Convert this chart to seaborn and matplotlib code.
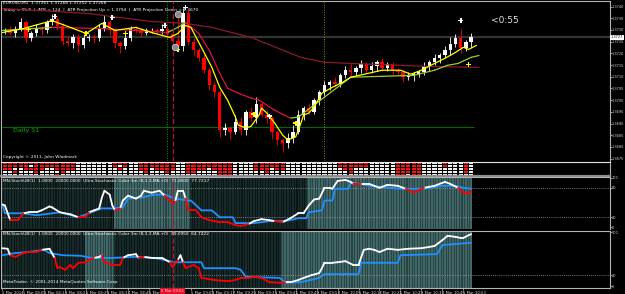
import numpy as np
import pandas as pd
import matplotlib
matplotlib.use("Agg")
import matplotlib.pyplot as plt
import seaborn as sns

# ---------------- data ----------------
first_open = 1.37294
candle_close = [
    1.37298, 1.37289, 1.37306, 1.37332, 1.37264, 1.37285, 1.37306, 1.37298, 1.37332, 1.37349,
    1.37319, 1.37255, 1.37243, 1.37272, 1.37234, 1.37264, 1.37272, 1.37264, 1.37306, 1.37332,
    1.37298, 1.37243, 1.37230, 1.37264, 1.37306, 1.37298, 1.37289, 1.37298, 1.37298, 1.37294,
    1.37306, 1.37281, 1.37255, 1.37230, 1.37374, 1.37247, 1.37213, 1.37179, 1.37128, 1.37064,
    1.37034, 1.36872, 1.36881, 1.36864, 1.36906, 1.36872, 1.36949, 1.36923, 1.36983, 1.36936,
    1.36923, 1.36864, 1.36830, 1.36817, 1.36838, 1.36864, 1.36936, 1.36966, 1.36949, 1.37000,
    1.37034, 1.37064, 1.37077, 1.37068, 1.37106, 1.37128, 1.37119, 1.37136, 1.37153, 1.37128,
    1.37145, 1.37162, 1.37136, 1.37153, 1.37128, 1.37119, 1.37098, 1.37102, 1.37111, 1.37119,
    1.37145, 1.37162, 1.37179, 1.37191, 1.37213, 1.37238, 1.37264, 1.37221, 1.37247, 1.37268]
wick_up_pips = [1, 2, 1, 2, 1, 1, 2, 1, 1, 2, 1, 1, 2, 1, 1, 2, 1, 1, 2, 3,
                1, 1, 1, 2, 1, 1, 1, 1, 1, 1, 2, 1, 1, 11, 2, 1, 2, 1, 2, 1,
                2, 1, 2, 1, 3, 2, 1, 2, 3, 1, 2, 1, 1, 1, 2, 3, 2, 1, 2, 1,
                1, 2, 1, 2, 1, 2, 3, 1, 2, 1, 2, 1, 2, 1, 1, 1, 1, 2, 1, 1,
                2, 1, 2, 1, 2, 3, 2, 4, 1, 2]
wick_dn_pips = [1, 1, 2, 1, 2, 1, 1, 2, 1, 1, 2, 2, 1, 2, 3, 1, 1, 2, 1, 1,
                2, 2, 3, 1, 1, 1, 2, 1, 1, 1, 1, 2, 1, 2, 2, 1, 2, 1, 1, 2,
                2, 3, 2, 3, 1, 2, 2, 1, 2, 1, 2, 3, 2, 4, 2, 2, 1, 2, 1, 1,
                2, 1, 2, 1, 1, 1, 2, 1, 2, 1, 1, 2, 1, 1, 2, 1, 2, 1, 2, 1,
                1, 2, 1, 2, 1, 2, 1, 2, 1, 2]

yellow_ma_t = [0, 8, 19, 26, 32, 38, 43, 51, 57, 64, 67, 70, 72, 76, 80, 83, 86, 89, 90, 93,
               95, 98, 99, 101, 104, 107, 109, 112, 114, 115, 117, 119, 122, 126, 130, 133,
               145, 152, 156, 160, 165, 169, 173, 176, 178, 181]
yellow_ma_p = [1.37289, 1.37306, 1.37340, 1.37311, 1.37285, 1.37328, 1.37298, 1.37311, 1.37289,
               1.37268, 1.37285, 1.37319, 1.37311, 1.37226, 1.37140, 1.37055, 1.37000, 1.36928,
               1.36894, 1.36881, 1.36889, 1.36936, 1.36966, 1.36945, 1.36902, 1.36851, 1.36830,
               1.36843, 1.36902, 1.36936, 1.36945, 1.36970, 1.37030, 1.37055, 1.37077, 1.37098,
               1.37128, 1.37128, 1.37111, 1.37128, 1.37157, 1.37179, 1.37204, 1.37226, 1.37217,
               1.37234]
mid_ma_t = [0, 19, 38, 57, 63, 67, 70, 75, 79, 83, 86, 90, 95, 98, 104, 110, 113, 123, 133,
            145, 157, 165, 170, 174, 179, 182]
mid_ma_p = [1.37298, 1.37311, 1.37306, 1.37294, 1.37289, 1.37311, 1.37332, 1.37285, 1.37213,
            1.37115, 1.37051, 1.37030, 1.37009, 1.37000, 1.36957, 1.36923, 1.36928, 1.37013,
            1.37098, 1.37102, 1.37106, 1.37128, 1.37149, 1.37157, 1.37183, 1.37191]
slow_ma_t = [0, 15, 33, 57, 70, 80, 95, 114, 123, 133, 152, 160, 182]
slow_ma_p = [1.37391, 1.37383, 1.37370, 1.37336, 1.37328, 1.37311, 1.37268, 1.37183, 1.37162,
             1.37157, 1.37149, 1.37145, 1.37140]

daily_s1 = 1.36885
bid_price = 1.37268
bid_label = "1.3727"
price_ticks = [1.3675, 1.3680, 1.3685, 1.3690, 1.3695, 1.3700, 1.3705, 1.3710,
               1.3715, 1.3720, 1.3725, 1.3730, 1.3735, 1.3740]
price_tick_labels = ["1.3675", "1.3680", "1.3685", "1.3690", "1.3695", "1.3700", "1.3705",
                     "1.3710", "1.3715", "1.3720", "1.3725", "1.3730", "1.3735", "1.3740"]

sell_sig_t = [20, 42, 62, 70, 102, 175]
sell_sig_p = [1.37357, 1.37353, 1.37319, 1.37396, 1.36932, 1.37340]
buy_sig_t = [10, 32, 47, 67, 96, 112, 178]
buy_sig_p = [1.37302, 1.37285, 1.37285, 1.37217, 1.36940, 1.36902, 1.37153]
alert_t = [67, 66]
alert_p = [1.37370, 1.37226]

heat_rows = [
    "rrrrrrrrrrrrrr" "wwwwwww" "rrr" "ww" "rrrrrrr" "ww" "rrrrrrrrr" "wwww" "rrrrrr"
    "wwwwwwwwww" "rrrrrr" "wwwww" "rrrrr" "wwww" "r" "www" "r" "w",
    "rrrrrwrrrrrrrr" "wwwwwww" "rwr" "ww" "rrrrrrr" "ww" "rrrrrrrrr" "wwww" "rrrrrr"
    "wwwwwwwwww" "rrrrrr" "wwwww" "rrrrr" "wwww" "r" "www" "r" "w",
    "rrwwrrrrwwrrrr" "wwwwwww" "wrw" "ww" "rrwrrrr" "ww" "rrrrwrrrr" "wwww" "rrrwrr"
    "wwwwwwwwww" "wrrwww" "wwwww" "rrrrr" "wwww" "w" "www" "r" "w",
    "wwrwwwrwwwwrww" "wwwwwww" "www" "ww" "wrwwwrw" "ww" "rrwwwwrrr" "wwww" "wwrwww"
    "wwwwwwwwww" "wwrwww" "wwwww" "rrrrr" "wwww" "w" "www" "r" "w",
    "wwwwwwwwwwrwww" "wwwwwww" "www" "ww" "wwwwwww" "ww" "wwwwwwrrr" "wwww" "wwwwww"
    "wwwwwwwwww" "wwwwww" "wwwww" "rrwrr" "wwww" "w" "www" "w" "w",
]

s1_main_t = [0, 1, 3, 6, 8, 10, 13, 15, 18, 19, 22, 26, 29, 32, 33, 35, 37, 38, 39, 41, 42, 43,
             45, 46, 48, 51, 53, 54, 57, 60, 62, 64, 65, 66, 67, 69, 70, 71, 74, 76, 79, 83, 86,
             89, 91, 94, 96, 99, 102, 104, 107, 110, 113, 115, 117, 119, 121, 123, 125, 126,
             128, 131, 133, 134, 137, 140, 144, 147, 151, 154, 157, 161, 165, 169, 171, 174,
             176, 178, 179]
s1_main_v = [46, 44, 14, 14, 28, 30, 30, 34, 42, 40, 30, 26, 20, 22, 30, 34, 38, 60, 74, 66, 44,
             34, 38, 54, 64, 58, 64, 74, 70, 74, 64, 54, 48, 52, 74, 74, 58, 34, 34, 20, 14, 10,
             10, 4, 2, 6, 12, 16, 14, 12, 10, 18, 28, 28, 44, 56, 58, 80, 80, 78, 94, 96, 92, 88,
             88, 88, 80, 86, 84, 78, 70, 80, 84, 92, 88, 80, 70, 68, 74]
s1_sig_t = [0, 1, 8, 13, 22, 29, 38, 42, 46, 48, 53, 58, 62, 66, 71, 72, 76, 80, 83, 88, 89, 96,
            102, 108, 113, 116, 117, 122, 123, 126, 127, 132, 133, 137, 140, 144, 152, 161, 168,
            173, 176, 179]
s1_sig_v = [46, 28, 28, 24, 30, 20, 38, 38, 40, 58, 60, 66, 66, 58, 54, 54, 34, 34, 20, 20, 8, 8,
            12, 12, 18, 18, 30, 34, 54, 54, 78, 78, 90, 88, 84, 82, 78, 78, 84, 84, 80, 78]
s1_zone_start = [0, 43, 72, 117]
s1_zone_kind = ["dark", "light", "dark", "light"]

s2_main_t = [0, 2, 3, 5, 8, 10, 13, 15, 18, 20, 21, 22, 24, 26, 27, 29, 32, 33, 35, 37, 38, 39,
             42, 45, 46, 48, 51, 52, 54, 57, 61, 64, 65, 67, 68, 69, 70, 73, 75, 76, 81, 86, 89,
             91, 94, 96, 99, 102, 106, 108, 110, 113, 115, 118, 121, 122, 123, 126, 128, 131,
             134, 136, 138, 140, 142, 144, 147, 151, 155, 160, 165, 168, 170, 173, 175, 176,
             178, 179]
s2_main_v = [70, 69, 57, 54, 61, 63, 63, 67, 69, 52, 33, 35, 30, 39, 33, 43, 44, 48, 52, 54, 57,
             44, 39, 39, 52, 57, 59, 52, 54, 52, 52, 44, 35, 48, 57, 44, 33, 39, 33, 15, 11, 9,
             11, 15, 15, 17, 15, 7, 6, 7, 7, 11, 15, 20, 24, 33, 43, 43, 44, 46, 39, 39, 67, 69,
             67, 63, 69, 67, 69, 70, 74, 85, 93, 91, 89, 89, 94, 96]
s2_sig_t = [0, 5, 10, 16, 18, 23, 30, 34, 42, 51, 58, 66, 76, 77, 89, 91, 93, 106, 108, 114,
            121, 123, 136, 137, 151, 152, 166, 168, 179]
s2_sig_v = [57, 61, 63, 67, 61, 57, 56, 52, 52, 54, 52, 44, 44, 33, 33, 30, 17, 15, 6, 7, 15,
            22, 22, 43, 43, 57, 59, 76, 80]
s2_zone_start = [0, 32, 43, 107]
s2_zone_kind = ["dark", "light", "dark", "light"]

time_tick_minutes = [0, 8, 16, 24, 32, 40, 48, 56, 72, 80, 88, 96, 104, 112, 120, 128, 136,
                     144, 152, 160, 168, 176]
time_tick_labels = ["5 Mar 2014", "5 Mar 08:05", "5 Mar 08:13", "5 Mar 08:21", "5 Mar 08:29",
                    "5 Mar 08:37", "5 Mar 08:45", "5 Mar 08:53", "5 Mar 09:09",
                    "5 Mar 09:17", "5 Mar 09:25", "5 Mar 09:33", "5 Mar 09:41", "5 Mar 09:49",
                    "5 Mar 09:57", "5 Mar 10:05", "5 Mar 10:13", "5 Mar 10:21", "5 Mar 10:29",
                    "5 Mar 10:37", "5 Mar 10:45", "5 Mar 10:53"]
cursor_minute = 65
cursor_label = "5 Mar 09:02"
separator_minute = 63
marker_minute = 122.7

# ---------------- style ----------------
sns.set_theme(style="dark", rc={"axes.facecolor": "black", "figure.facecolor": "black",
                                "axes.edgecolor": "#b0b0b0", "axes.grid": False})
plt.rcParams["font.family"] = ["DejaVu Sans"]

W, H = 625, 294
fig = plt.figure(figsize=(6.25, 2.94), dpi=100, facecolor="black")
x0, xw = 1 / W, 609 / W


def box(top, bottom):
    return [x0, 1 - bottom / H, xw, (bottom - top) / H]


ax_main = fig.add_axes(box(0.5, 161))
ax_heat = fig.add_axes(box(162, 176))
ax_s1 = fig.add_axes(box(177, 229))
ax_s2 = fig.add_axes(box(231, 288))

TXT = "#d8d8d8"
FS = 3.1
YFS = 2.5
XLIM = (-0.5, 232.0)

for ax in (ax_main, ax_heat, ax_s1, ax_s2):
    ax.set_facecolor("black")
    ax.set_xlim(*XLIM)
    for side, sp in ax.spines.items():
        sp.set_color("#b4b4b4")
        sp.set_linewidth(0.8)
    ax.spines["bottom"].set_visible(False)
    ax.yaxis.tick_right()
    ax.tick_params(axis="y", colors=TXT, labelsize=YFS, length=1.2, width=0.5, pad=0.3)
    ax.tick_params(axis="x", bottom=False, labelbottom=False)

# ---------------- main price panel ----------------
ax_main.set_ylim(1.36740, 1.37426)
ax_main.set_yticks(price_ticks)
ax_main.set_yticklabels(price_tick_labels)

ax_main.axhline(bid_price, color="#333333", lw=1.6, zorder=1)
ax_main.hlines(daily_s1, 0, 180, color="#006a00", lw=0.8, zorder=1)
ax_main.axvline(separator_minute, color="#00a000", ls=(0, (1, 1.5)), lw=0.7, zorder=1)
ax_main.axvline(marker_minute, color="#8a8a00", ls=(0, (1, 1.5)), lw=0.7, zorder=1)

closes = np.array(candle_close)
opens = np.array([first_open] + candle_close[:-1])
ct = np.arange(len(closes)) * 2 + 1
up = closes >= opens
cols = np.where(up, "#ffffff", "#ff0000")
highs = np.maximum(opens, closes) + np.array(wick_up_pips) * 1e-4
lows = np.minimum(opens, closes) - np.array(wick_dn_pips) * 1e-4
ax_main.vlines(ct, lows, highs, colors=cols, lw=0.6, zorder=3)
ax_main.bar(ct, np.maximum(np.abs(closes - opens), 0.00002), bottom=np.minimum(opens, closes),
            width=1.3, color=cols, lw=0, zorder=3)

sns.lineplot(x=slow_ma_t, y=slow_ma_p, color="#8b1a2a", lw=0.9, ax=ax_main,
             estimator=None, sort=False, zorder=4)


def seg_frame(t, v, labels):
    rows = []
    for i in range(len(t) - 1):
        rows.append((i, labels[i], t[i], v[i]))
        rows.append((i, labels[i], t[i + 1], v[i + 1]))
    return pd.DataFrame(rows, columns=["seg", "c", "t", "v"])


mid_dir = ["up" if mid_ma_p[i + 1] >= mid_ma_p[i] else "down" for i in range(len(mid_ma_p) - 1)]
sns.lineplot(data=seg_frame(mid_ma_t, mid_ma_p, mid_dir), x="t", y="v", hue="c", units="seg",
             estimator=None, sort=False, palette={"up": "#9acd32", "down": "#dc143c"},
             legend=False, lw=0.9, ax=ax_main, zorder=4, solid_capstyle="round")
sns.lineplot(x=yellow_ma_t, y=yellow_ma_p, color="#ffff00", lw=0.9, ax=ax_main,
             estimator=None, sort=False, zorder=5)

sns.scatterplot(x=sell_sig_t, y=sell_sig_p, marker="P", s=13, color="white",
                edgecolor="none", ax=ax_main, zorder=6)
sns.scatterplot(x=buy_sig_t, y=buy_sig_p, marker="P", s=13, color="#ffff00",
                edgecolor="none", ax=ax_main, zorder=6)
sns.scatterplot(x=alert_t, y=alert_p, marker="o", s=22, color="#8c8c8c",
                edgecolor="#e0e0e0", linewidth=0.5, ax=ax_main, zorder=6)

ax_main.text(0.004, 0.995, "EURUSD,M1  1.37261 1.37268 1.37252 1.37268",
             transform=ax_main.transAxes, va="top", ha="left", color="white", fontsize=FS)
ax_main.text(0.004, 0.952,
             "Today = 95.8  |  ATR = 124  |  ATR Projection Up = 1.3794  |  ATR Projection Down = 1.3670",
             transform=ax_main.transAxes, va="top", ha="left", color="white", fontsize=FS)
ax_main.text(0.004, 0.025, "Copyright \u00a9 2011, John Wlodmark", transform=ax_main.transAxes,
             va="center", ha="left", color="white", fontsize=FS)
ax_main.text(4, 1.36872, "Daily S1", color="#00b400", fontsize=4.6, va="center", ha="left")
ax_main.text(186.5, 1.37340, "<0:55", color="#e0e0e0", fontsize=6.5, va="center", ha="left")
ax_main.annotate(bid_label, xy=(1, bid_price), xycoords=("axes fraction", "data"),
                 xytext=(0.6, 0), textcoords="offset points", ha="left", va="center",
                 fontsize=YFS, color="black", annotation_clip=False,
                 bbox=dict(boxstyle="square,pad=0.12", fc="white", ec="none"))

# ---------------- heat panel (cells) ----------------
n_rows = len(heat_rows)
ax_heat.set_ylim(n_rows, 0)
ax_heat.set_yticks([])
for r, row in enumerate(heat_rows):
    cells = (row + "w" * 90)[:90]
    cell_t = np.arange(90) * 2 + 1
    cell_c = ["#ff1010" if ch == "r" else "#f2f2f2" for ch in cells]
    ax_heat.bar(cell_t, 0.72, bottom=r + 0.14, width=1.55, color=cell_c, lw=0, zorder=2)
ax_heat.spines["top"].set_color("#e6e6e6")
ax_heat.spines["bottom"].set_visible(True)
ax_heat.spines["bottom"].set_color("#8c8c8c")
ax_heat.spines["bottom"].set_linewidth(1.6)

# ---------------- stochastic panels ----------------
ZONE_COLORS = {"dark": ("#0b1515", "#182b2b"), "light": ("#294343", "#416868")}


def stripes(ax, zone_start, zone_kind, lo, hi):
    starts = zone_start + [180]
    for i, kind in enumerate(zone_kind):
        base, bar = ZONE_COLORS[kind]
        ax.axvspan(starts[i] - 0.5, starts[i + 1] - 0.5, color=base, lw=0, zorder=0)
        ts = np.arange(starts[i], starts[i + 1])
        ax.bar(ts, hi - lo, bottom=lo, width=0.6, color=bar, lw=0, zorder=0.5)


def stoch_panel(ax, lo, hi, zs, zk, mt, mv, st, sv, levels, ticks, label, label_y):
    ax.set_ylim(lo, hi)
    stripes(ax, zs, zk, lo, hi)
    for lv in levels:
        ax.axhline(lv, color="#9a9a9a", ls=(0, (1, 1.5)), lw=0.6, zorder=1)
    sns.lineplot(x=st, y=sv, color="#1e90ff", lw=1.3, ax=ax, estimator=None, sort=False,
                 zorder=3)
    sig_at = np.interp(mt, st, sv)
    col = ["white" if (mv[i] + mv[i + 1]) / 2 >= (sig_at[i] + sig_at[i + 1]) / 2 else "red"
           for i in range(len(mt) - 1)]
    sns.lineplot(data=seg_frame(mt, mv, col), x="t", y="v", hue="c", units="seg",
                 estimator=None, sort=False, palette={"white": "#ffffff", "red": "#ff0000"},
                 legend=False, lw=1.3, ax=ax, zorder=4, solid_capstyle="round")
    ax.set_yticks(ticks)
    ax.set_yticklabels([str(t) for t in ticks])
    ax.text(0.004, label_y, label, transform=ax.transAxes, va="center",
            ha="left", color="white", fontsize=FS, zorder=6)
    ax.axvline(cursor_minute, color="#b4142d", ls=(0, (4, 2)), lw=0.9, zorder=5)


stoch_panel(ax_s1, -4, 102, s1_zone_start, s1_zone_kind, s1_main_t, s1_main_v, s1_sig_t,
            s1_sig_v, [80, 20], [0, 20, 80, 100],
            "MN-StochUB(1)  1.0000  20000.0000  Ultra Stochastic Color 3m (8,3,3,MA,+0)  71.8000  77.7217",
            0.93)
stoch_panel(ax_s2, -3.7, 101.9, s2_zone_start, s2_zone_kind, s2_main_t, s2_main_v, s2_sig_t,
            s2_sig_v, [20], [0, 20, 100],
            "MN-StochUB(1)  1.0000  20000.0000  Ultra Stochastic Color 3m (8,3,3,MA,+0)  89.0950  64.7422",
            0.955)
ax_main.axvline(cursor_minute, color="#b4142d", ls=(0, (4, 2)), lw=0.9, zorder=5)
for ax in (ax_main, ax_heat, ax_s1, ax_s2):
    ax.set_xlim(*XLIM)
    ax.set_xlabel("")
    ax.set_ylabel("")

ax_s2.text(0.004, 0.105, "MetaTrader, \u00a9 2001-2014 MetaQuotes Software Corp.",
           transform=ax_s2.transAxes, va="center", ha="left", color="white", fontsize=FS,
           zorder=6)

# time axis
ax_s2.spines["bottom"].set_visible(True)
ax_s2.set_xticks(time_tick_minutes)
ax_s2.set_xticklabels(time_tick_labels, ha="left")
ax_s2.tick_params(axis="x", bottom=True, labelbottom=True, colors=TXT, labelsize=2.7,
                  length=1.5, width=0.5, pad=0.6)
ax_s2.annotate(cursor_label, xy=(cursor_minute, 0), xycoords=("data", "axes fraction"),
               xytext=(0, -0.9), textcoords="offset points", ha="center", va="top",
               fontsize=2.7, color="#ffe0e0", annotation_clip=False, zorder=10,
               bbox=dict(boxstyle="square,pad=0.3", fc="#e8102a", ec="none"))

fig.savefig("out.png", dpi=100, facecolor="black")
